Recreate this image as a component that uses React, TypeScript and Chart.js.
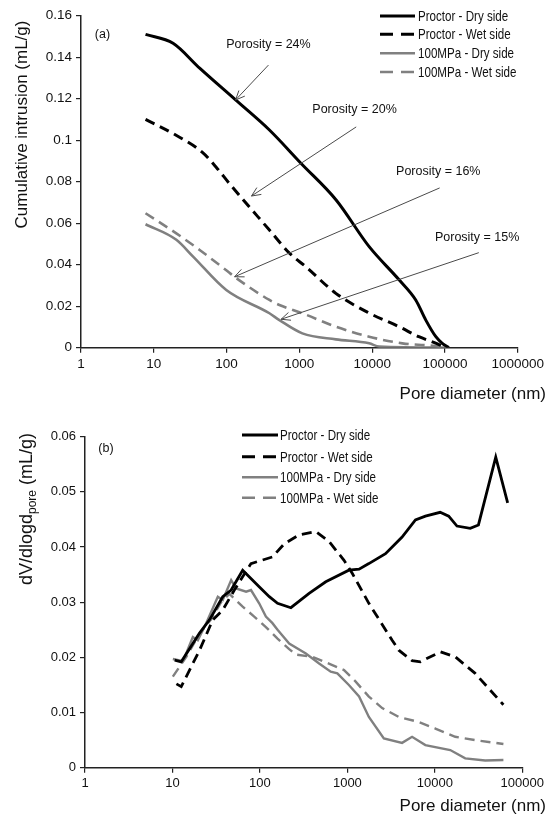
import React, { useEffect, useRef } from "react";
import { Chart, registerables } from "chart.js";
Chart.register(...registerables);

const FONT = "'Liberation Sans', Arial, sans-serif";
const LEGEND_FONT = "'Liberation Sans', Arial, sans-serif";

const seriesLabels = ["Proctor - Dry side", "Proctor - Wet side", "100MPa - Dry side", "100MPa - Wet side"];
const seriesColors = ["#000000", "#000000", "#808080", "#808080"];
const seriesDashed = [false, true, false, true];

// ---------- Panel (a): cumulative intrusion ----------
const aXTicks = [1, 10, 100, 1000, 10000, 100000, 1000000];
const aYTicks = [0, 0.02, 0.04, 0.06, 0.08, 0.1, 0.12, 0.14, 0.16];

const aProctorDryX = [7.7, 18.4, 42.7, 133, 388, 1050, 3200, 9100, 23600, 39700, 54600, 75000, 92000, 113000];
const aProctorDryY = [0.151, 0.1467, 0.1347, 0.1194, 0.1049, 0.0889, 0.0712, 0.0487, 0.0326, 0.023, 0.0133, 0.0053, 0.0021, 0];

const aProctorWetX = [7.7, 20, 47, 72, 110, 388, 730, 1230, 3170, 9100, 23500, 43800, 74500, 102000];
const aProctorWetY = [0.11, 0.1025, 0.094, 0.087, 0.079, 0.0567, 0.0456, 0.039, 0.0262, 0.0167, 0.0101, 0.0053, 0.0022, 0];

const aMpaDryX = [7.7, 20.4, 34.7, 99, 388, 532, 1100, 3170, 9100, 12500, 113000];
const aMpaDryY = [0.0595, 0.052, 0.0439, 0.0278, 0.0166, 0.0133, 0.0069, 0.004, 0.0021, 0.0005, 0];

const aMpaWetX = [7.7, 20.4, 42.7, 99, 128, 388, 532, 1100, 3170, 9100, 26000, 75000, 113000];
const aMpaWetY = [0.0648, 0.0551, 0.0471, 0.0373, 0.0342, 0.023, 0.0206, 0.0166, 0.0101, 0.0053, 0.0021, 0.0008, 0];

const porosityLabels = ["Porosity = 24%", "Porosity = 20%", "Porosity = 16%", "Porosity = 15%"];
const porosityLabelX = [99, 1507, 21300, 72900];
const porosityLabelY = [0.1459, 0.1146, 0.0847, 0.0533];
const arrowFromX = [376, 6040, 84600, 292000];
const arrowFromY = [0.1362, 0.1064, 0.077, 0.0458];
const arrowToX = [133, 220, 129, 561];
const arrowToY = [0.1194, 0.0731, 0.0342, 0.0137];

// ---------- Panel (b): dV/dlogd ----------
const bXTicks = [1, 10, 100, 1000, 10000, 100000];
const bYTicks = [0, 0.01, 0.02, 0.03, 0.04, 0.05, 0.06];

const bProctorDryX = [10.6, 12.6, 20.4, 26.5, 37.6, 46.9, 63.5, 98, 128, 159, 226, 365, 566, 1040, 1360, 1760, 2730, 4220, 6000, 7800, 11500, 14400, 17900, 25400, 31500, 49700, 68000];
const bProctorDryY = [0.0195, 0.0192, 0.0244, 0.0268, 0.031, 0.0322, 0.0358, 0.0328, 0.031, 0.0298, 0.029, 0.0316, 0.0337, 0.0358, 0.036, 0.037, 0.0388, 0.0418, 0.0449, 0.0456, 0.0463, 0.0456, 0.0438, 0.0434, 0.044, 0.0563, 0.048];

const bProctorWetX = [11.1, 12.6, 20.4, 28.9, 37.6, 51, 79, 139, 190, 281, 436, 617, 915, 1140, 1760, 3250, 3870, 5490, 6840, 11550, 17100, 28900, 60800];
const bProctorWetY = [0.0152, 0.0147, 0.0213, 0.0268, 0.0286, 0.0322, 0.037, 0.0382, 0.0406, 0.0422, 0.0428, 0.041, 0.0376, 0.0352, 0.0298, 0.0231, 0.0213, 0.0194, 0.0192, 0.021, 0.0201, 0.0171, 0.0114];

const bMpaDryX = [10.1, 13.2, 17.1, 19.5, 24.3, 33, 37.6, 46.9, 53.4, 69.5, 79, 98, 117, 139, 159, 216, 335, 475, 645, 768, 1040, 1360, 1760, 2610, 4220, 5490, 7790, 15000, 22250, 37600, 60800];
const bMpaDryY = [0.0197, 0.0193, 0.0237, 0.0231, 0.0262, 0.031, 0.0304, 0.034, 0.0325, 0.0319, 0.0322, 0.0298, 0.0274, 0.0262, 0.025, 0.0225, 0.0207, 0.0189, 0.0174, 0.0171, 0.015, 0.0129, 0.0092, 0.0053, 0.0045, 0.0056, 0.0041, 0.0032, 0.0017, 0.0013, 0.0014];

const bMpaWetX = [10.1, 14.4, 20.4, 28, 36, 44.8, 63.5, 86, 117, 159, 216, 258, 398, 673, 915, 1244, 1760, 2500, 3870, 6530, 10130, 17100, 28900, 60800];
const bMpaWetY = [0.0165, 0.0201, 0.0243, 0.027, 0.03, 0.0315, 0.0292, 0.0274, 0.0255, 0.0234, 0.0215, 0.0205, 0.0201, 0.0186, 0.0177, 0.0156, 0.0129, 0.0108, 0.0092, 0.0083, 0.0071, 0.0056, 0.005, 0.0043];

function buildDatasets(xs: number[][], ys: number[][], widths: number[], smooth: boolean) {
  return seriesLabels.map((label, i) => ({
    label,
    data: xs[i].map((x, j) => ({ x, y: ys[i][j] })),
    borderColor: seriesColors[i],
    backgroundColor: seriesColors[i],
    borderWidth: widths[i],
    borderDash: seriesDashed[i] ? [10, 6] : [],
    borderCapStyle: "butt",
    pointRadius: 0,
    fill: false,
    tension: 0,
    cubicInterpolationMode: smooth ? "monotone" : "default",
  }));
}

function fmt(v: number) {
  return String(Number(Number(v).toFixed(4)));
}

function drawLegend(ctx: CanvasRenderingContext2D, x0: number, x1: number, textX: number, rows: number[], fontSize: number) {
  ctx.save();
  rows.forEach((ry, i) => {
    ctx.strokeStyle = seriesColors[i];
    ctx.lineWidth = i < 2 ? 3 : 2.5;
    ctx.lineCap = "butt";
    ctx.setLineDash(seriesDashed[i] ? [13, 8] : []);
    ctx.beginPath();
    ctx.moveTo(x0, ry);
    ctx.lineTo(x1, ry);
    ctx.stroke();
    ctx.setLineDash([]);
    ctx.fillStyle = "#111";
    ctx.font = `${fontSize}px ${LEGEND_FONT}`;
    ctx.textAlign = "left";
    ctx.textBaseline = "middle";
    ctx.save();
    ctx.translate(textX, ry + 1);
    ctx.scale(0.8, 1);
    ctx.fillText(seriesLabels[i], 0, 0);
    ctx.restore();
  });
  ctx.restore();
}

function baseScales(xMax: number, yMax: number, xTicks: number[], yTicks: number[], yW: number, xH: number, tickSize: number) {
  return {
    x: {
      type: "logarithmic",
      min: 1,
      max: xMax,
      afterBuildTicks: (s: any) => {
        s.ticks = xTicks.map((v) => ({ value: v }));
      },
      afterFit: (s: any) => {
        s.height = xH;
      },
      ticks: {
        callback: (v: any) => String(v),
        font: { family: FONT, size: tickSize },
        color: "#111",
        padding: 3,
        maxRotation: 0,
        autoSkip: false,
      },
      grid: { drawOnChartArea: false, drawTicks: true, tickLength: 5, color: "#222", lineWidth: 1.2 },
      border: { display: true, color: "#222", width: 1.5 },
    },
    y: {
      type: "linear",
      min: 0,
      max: yMax,
      afterBuildTicks: (s: any) => {
        s.ticks = yTicks.map((v) => ({ value: v }));
      },
      afterFit: (s: any) => {
        s.width = yW;
      },
      ticks: {
        callback: (v: any) => fmt(v),
        font: { family: FONT, size: tickSize },
        color: "#111",
        padding: 4,
      },
      grid: { drawOnChartArea: false, drawTicks: true, tickLength: 5, color: "#222", lineWidth: 1.2 },
      border: { display: true, color: "#222", width: 1.5 },
    },
  };
}

function PanelA() {
  const ref = useRef<HTMLCanvasElement>(null);
  useEffect(() => {
    const canvas = ref.current!;
    const plugin = {
      id: "panelA",
      afterDatasetsDraw(chart: any) {
        const ctx: CanvasRenderingContext2D = chart.ctx;
        const xs = chart.scales.x;
        const ys = chart.scales.y;
        ctx.save();
        ctx.fillStyle = "#111";
        ctx.font = `12.5px ${FONT}`;
        ctx.textBaseline = "middle";
        ctx.textAlign = "left";
        ctx.fillText("(a)", xs.getPixelForValue(1.55), ys.getPixelForValue(0.151));
        for (let i = 0; i < porosityLabels.length; i++) {
          ctx.fillStyle = "#111";
          ctx.font = `12.5px ${FONT}`;
          ctx.fillText(porosityLabels[i], xs.getPixelForValue(porosityLabelX[i]), ys.getPixelForValue(porosityLabelY[i]));
          const fx = xs.getPixelForValue(arrowFromX[i]);
          const fy = ys.getPixelForValue(arrowFromY[i]);
          const tx = xs.getPixelForValue(arrowToX[i]);
          const ty = ys.getPixelForValue(arrowToY[i]);
          ctx.strokeStyle = "#4a4a4a";
          ctx.lineWidth = 1;
          ctx.beginPath();
          ctx.moveTo(fx, fy);
          ctx.lineTo(tx, ty);
          const ang = Math.atan2(ty - fy, tx - fx);
          const L = 10;
          const spread = 0.42;
          ctx.moveTo(tx, ty);
          ctx.lineTo(tx - L * Math.cos(ang - spread), ty - L * Math.sin(ang - spread));
          ctx.moveTo(tx, ty);
          ctx.lineTo(tx - L * Math.cos(ang + spread), ty - L * Math.sin(ang + spread));
          ctx.stroke();
        }
        drawLegend(ctx, 380, 415, 418, [16, 34.3, 53.3, 72], 14.5);
        ctx.fillStyle = "#111";
        ctx.font = `17px ${FONT}`;
        ctx.textAlign = "right";
        ctx.textBaseline = "alphabetic";
        ctx.fillText("Pore diameter (nm)", 546, 399);
        ctx.save();
        ctx.translate(27, 124.5);
        ctx.rotate(-Math.PI / 2);
        ctx.textAlign = "center";
        ctx.fillText("Cumulative intrusion (mL/g)", 0, 0);
        ctx.restore();
        ctx.restore();
      },
    };
    const chart = new Chart(canvas, {
      type: "line",
      data: {
        datasets: buildDatasets(
          [aProctorDryX, aProctorWetX, aMpaDryX, aMpaWetX],
          [aProctorDryY, aProctorWetY, aMpaDryY, aMpaWetY],
          [3, 3, 2.6, 2.6],
          true
        ) as any,
      },
      options: {
        responsive: false,
        animation: false,
        devicePixelRatio: 1,
        layout: { padding: { top: 15.7, right: 28, left: 0, bottom: 0 } },
        plugins: { legend: { display: false }, tooltip: { enabled: false } },
        scales: baseScales(1000000, 0.16, aXTicks, aYTicks, 81, 57.3, 13.5) as any,
      },
      plugins: [plugin],
    });
    return () => chart.destroy();
  }, []);
  return <canvas ref={ref} width={547} height={405} style={{ display: "block" }} />;
}

function PanelB() {
  const ref = useRef<HTMLCanvasElement>(null);
  useEffect(() => {
    const canvas = ref.current!;
    const plugin = {
      id: "panelB",
      afterDatasetsDraw(chart: any) {
        const ctx: CanvasRenderingContext2D = chart.ctx;
        const xs = chart.scales.x;
        const ys = chart.scales.y;
        ctx.save();
        ctx.fillStyle = "#111";
        ctx.font = `12.5px ${FONT}`;
        ctx.textBaseline = "middle";
        ctx.textAlign = "left";
        ctx.fillText("(b)", xs.getPixelForValue(1.42), ys.getPixelForValue(0.0579));
        drawLegend(ctx, 242, 278, 280, [30, 51.7, 72.3, 92.7], 14.5);
        ctx.fillStyle = "#111";
        ctx.font = `17px ${FONT}`;
        ctx.textAlign = "right";
        ctx.textBaseline = "alphabetic";
        ctx.fillText("Pore diameter (nm)", 546, 406);
        const main = "dV/dlogd";
        const sub = "pore";
        const rest = " (mL/g)";
        ctx.font = `18px ${FONT}`;
        const w1 = ctx.measureText(main).width;
        const w3 = ctx.measureText(rest).width;
        ctx.font = `12px ${FONT}`;
        const w2 = ctx.measureText(sub).width;
        const total = w1 + w2 + w3;
        ctx.save();
        ctx.translate(32, 104);
        ctx.rotate(-Math.PI / 2);
        ctx.textAlign = "left";
        let u = -total / 2;
        ctx.font = `18px ${FONT}`;
        ctx.fillText(main, u, 0);
        u += w1;
        ctx.font = `12px ${FONT}`;
        ctx.fillText(sub, u, 4);
        u += w2;
        ctx.font = `18px ${FONT}`;
        ctx.fillText(rest, u, 0);
        ctx.restore();
        ctx.restore();
      },
    };
    const chart = new Chart(canvas, {
      type: "line",
      data: {
        datasets: buildDatasets(
          [bProctorDryX, bProctorWetX, bMpaDryX, bMpaWetX],
          [bProctorDryY, bProctorWetY, bMpaDryY, bMpaWetY],
          [2.8, 2.8, 2.4, 2.4],
          false
        ) as any,
      },
      options: {
        responsive: false,
        animation: false,
        devicePixelRatio: 1,
        layout: { padding: { top: 31.7, right: 23, left: 0, bottom: 0 } },
        plugins: { legend: { display: false }, tooltip: { enabled: false } },
        scales: baseScales(100000, 0.06, bXTicks, bYTicks, 85, 55.3, 13) as any,
      },
      plugins: [plugin],
    });
    return () => chart.destroy();
  }, []);
  return <canvas ref={ref} width={547} height={418} style={{ display: "block" }} />;
}

export default function App() {
  return (
    <div style={{ position: "absolute", left: 0, top: 0, width: 547, height: 823, background: "#fff" }}>
      <PanelA />
      <PanelB />
    </div>
  );
}
